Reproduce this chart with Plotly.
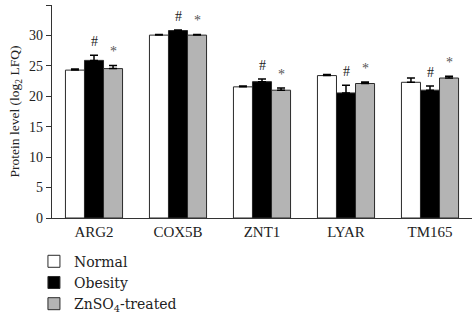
import plotly.graph_objects as go

categories = ["ARG2", "COX5B", "ZNT1", "LYAR", "TM165"]
series_names = ["Normal", "Obesity", "ZnSO<sub>4</sub>-treated"]
normal = [24.3, 30.05, 21.55, 23.4, 22.3]
normal_err = [0.2, 0.1, 0.15, 0.2, 0.7]
obesity = [25.9, 30.8, 22.4, 20.55, 21.0]
obesity_err = [0.85, 0.1, 0.45, 1.25, 0.7]
treated = [24.55, 30.05, 21.0, 22.1, 23.0]
treated_err = [0.5, 0.1, 0.35, 0.25, 0.3]
obesity_marks = ["#", "#", "#", "#", "#"]
treated_marks = ["*", "*", "*", "*", "*"]

fills = ["white", "black", "#b4b4b4"]
values = [normal, obesity, treated]
errs = [normal_err, obesity_err, treated_err]

FONT = "Liberation Serif"
LFONT = "DejaVu Serif"

fig = go.Figure()
for name, vals, err, col in zip(series_names, values, errs, fills):
    fig.add_trace(go.Bar(
        x=categories, y=vals, name=name,
        marker=dict(color=col, line=dict(color="#2a2a2a", width=1)),
        error_y=dict(type="data", array=err, arrayminus=[0]*len(err), symmetric=False,
                     color="black", thickness=1.5, width=4),
    ))

# significance marks
group_w = 1 - 0.32
bar_w = group_w / 3
for i, c in enumerate(categories):
    fig.add_annotation(x=i, xref="x", y=obesity[i] + obesity_err[i] + 0.7,
                       text=obesity_marks[i], showarrow=False, yanchor="bottom",
                       font=dict(family=FONT, size=14, color="#222"))
    fig.add_annotation(x=i + bar_w, xref="x", y=treated[i] + treated_err[i] + 0.7,
                       text=treated_marks[i], showarrow=False, yanchor="bottom",
                       font=dict(family=FONT, size=14, color="#555"))

fig.update_layout(
    width=473, height=317,
    margin=dict(l=52, r=1, t=5, b=99, autoexpand=False),
    barmode="group", bargap=0.32, bargroupgap=0,
    plot_bgcolor="white", paper_bgcolor="white",
    font=dict(family=FONT, size=14, color="#222"),
    showlegend=True,
    legend=dict(x=-0.043, y=-0.13, xanchor="left", yanchor="top",
                font=dict(family=LFONT, size=14, color="#222"),
                itemwidth=30, tracegroupgap=0, bgcolor="rgba(0,0,0,0)"),
    xaxis=dict(showline=True, linecolor="#333", linewidth=1.2, ticks="",
               tickfont=dict(family=FONT, size=15, color="#222"), range=[-0.5, 4.5]),
    yaxis=dict(range=[0, 35], dtick=5, showline=True, linecolor="#333", linewidth=1.2,
               ticks="outside", ticklen=5, tickcolor="#333", showgrid=False, zeroline=False,
               tickfont=dict(family=FONT, size=14, color="#222"),
               title=dict(text="Protein level (log<sub>2</sub> LFQ)", standoff=6,
                          font=dict(family=FONT, size=13.5, color="#222"))),
)

fig.write_html("out.html", config={"displayModeBar": False},
               post_script="document.body.style.margin='0';")
